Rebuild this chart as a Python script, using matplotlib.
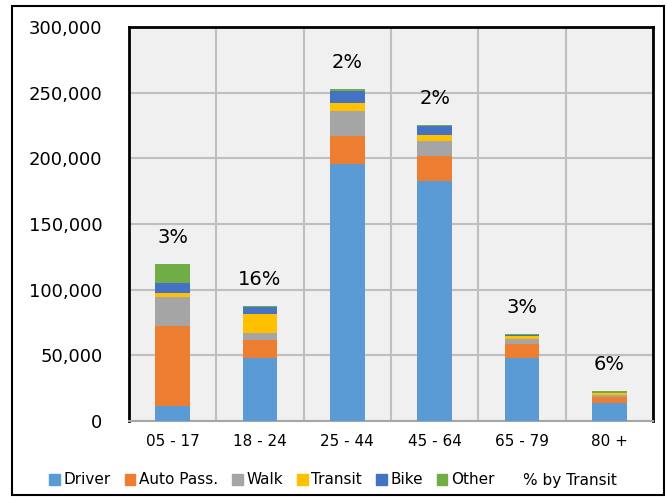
import matplotlib.pyplot as plt
import numpy as np
from matplotlib.patches import Patch, Rectangle
from matplotlib.lines import Line2D
from matplotlib.ticker import FuncFormatter

# age groups and trips by mode
ages = ['05 - 17', '18 - 24', '25 - 44', '45 - 64', '65 - 79', '80 +']
driver = [11200, 48300, 195600, 182400, 47800, 14000]
auto_pass = [61500, 13500, 21300, 19300, 10700, 4600]
walk = [21400, 5300, 18900, 11200, 4300, 1500]
transit = [3600, 14500, 6100, 4600, 2000, 1300]
bike = [7100, 4900, 9100, 7100, 400, 300]
other = [15000, 1000, 1600, 1000, 800, 1000]
pct_labels = ['3%', '16%', '2%', '2%', '3%', '6%']

modes = ['Driver', 'Auto Pass.', 'Walk', 'Transit', 'Bike', 'Other']
series = [driver, auto_pass, walk, transit, bike, other]
colors = ['#5B9BD5', '#ED7D31', '#A5A5A5', '#FFC000', '#4472C4', '#70AD47']

plt.rcParams['font.family'] = ['DejaVu Sans']

fig = plt.figure(figsize=(6.66, 4.97), dpi=100)
ax = fig.add_axes([129 / 666, 76 / 497, 524 / 666, 394 / 497])
ax.set_facecolor('#F0F0F0')

x = np.arange(len(ages))
bottom = np.zeros(len(ages))
for vals, name, c in zip(series, modes, colors):
    ax.bar(x, vals, width=0.4, bottom=bottom, color=c, label=name, zorder=3)
    bottom += np.array(vals)

# transit share labels above each stack
for xi, tot, lab in zip(x, bottom, pct_labels):
    ax.annotate(lab, (xi, tot), xytext=(0, 19), textcoords='offset points',
                ha='center', va='center', fontsize=14)

ax.set_xlim(-0.5, len(ages) - 0.5)
ax.set_ylim(0, 300000)
ax.set_yticks(np.arange(0, 300001, 50000))
ax.yaxis.set_major_formatter(FuncFormatter(lambda v, p: f'{int(v):,}'))
ax.set_xticks(x)
ax.set_xticklabels(ages)
ax.set_xticks(np.arange(-0.5, len(ages)), minor=True)

ax.grid(axis='y', color='#BFBFBF', linewidth=1.5, zorder=0)
ax.grid(axis='x', which='minor', color='#BFBFBF', linewidth=1.5, zorder=0)
ax.tick_params(axis='both', which='both', length=0)
ax.tick_params(axis='y', labelsize=13, pad=19)
ax.tick_params(axis='x', labelsize=11, pad=9)

for s in ['left', 'top', 'right']:
    ax.spines[s].set_linewidth(2)
    ax.spines[s].set_color('black')
ax.spines['bottom'].set_color('#A6A6A6')
ax.spines['bottom'].set_linewidth(1.5)

handles = [Patch(color=c) for c in colors]
handles.append(Line2D([], [], linestyle='none'))
fig.legend(handles, modes + ['% by Transit'], loc='center', bbox_to_anchor=(0.5, 17 / 497),
           ncol=7, frameon=False, fontsize=11, handlelength=0.7, handleheight=0.7,
           handletextpad=0.25, columnspacing=0.9)

# outer chart frame
fig.patches.append(Rectangle((12 / 666, 2 / 497), 652 / 666, 489 / 497, transform=fig.transFigure,
                             fill=False, edgecolor='black', linewidth=1.5))

fig.savefig('out.png', dpi=100)
